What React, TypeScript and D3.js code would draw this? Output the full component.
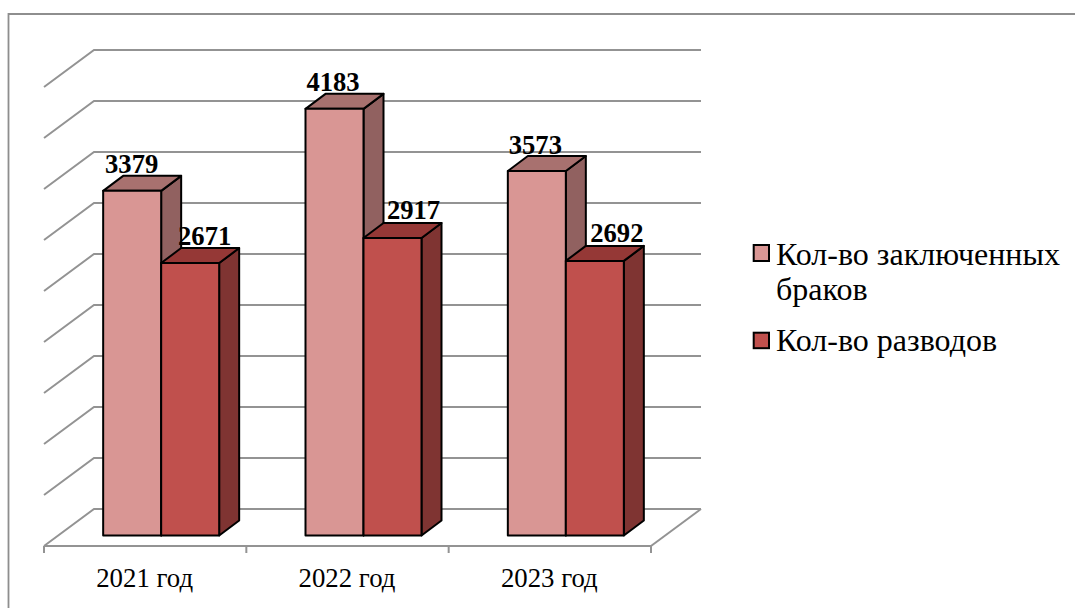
import React from "react";
import * as d3 from "d3";

const categories = ["2021 год", "2022 год", "2023 год"];
const seriesNames = ["Кол-во заключенных браков", "Кол-во разводов"];
const marriages = [3379, 4183, 3573];
const divorces = [2671, 2917, 2692];
const ticks = d3.range(0, 4501, 500);
// horizontal label shift from the centre of the bar, as placed in the picture
const marriageLabelShift = [-0.5, -1.5, -1.5];
const divorceLabelShift = [14.5, 21, 22];

const serif = "'Liberation Serif', 'Times New Roman', serif";
const GRID = "#939393";
const palettes = [
  { front: "#D99694", top: "#A8716F", side: "#916160" },
  { front: "#C0504D", top: "#953836", side: "#7F3432" },
];

const x = d3.scaleBand<string>().domain(categories).range([44, 651]);
const y = d3.scaleLinear().domain([0, 4500]).range([509, 50]);
const DEPTH_X = 50, DEPTH_Y = -37;
const BAR_DX = 20, BAR_DY = -15, BAR_W = 58, BAR_OFFSET = 16, BAR_FLOOR = 535.5;

function Bar({ cx, v, p }: { cx: number; v: number; p: typeof palettes[0] }) {
  const top = BAR_FLOOR - (y(0) - y(v));
  const l = cx, r = cx + BAR_W;
  const pts = (a: number[][]) => a.map((q) => q.join(",")).join(" ");
  return (
    <g stroke="#000" strokeWidth={2} strokeLinejoin="round">
      <polygon fill={p.side} points={pts([[r, top], [r + BAR_DX, top + BAR_DY], [r + BAR_DX, BAR_FLOOR + BAR_DY], [r, BAR_FLOOR]])} />
      <polygon fill={p.top} points={pts([[l, top], [l + BAR_DX, top + BAR_DY], [r + BAR_DX, top + BAR_DY], [r, top]])} />
      <rect x={l} y={top} width={BAR_W} height={BAR_FLOOR - top} fill={p.front} />
    </g>
  );
}

export default function App() {
  const x0 = 44, x1 = 651;
  const front = y(0) - DEPTH_Y;
  return (
    <svg width={1075} height={608} style={{ position: "absolute", left: 0, top: 0, background: "#fff" }}>
      <path d="M8.5,608V14H1075" fill="none" stroke="#8e8e8e" strokeWidth={1.8} />
      <g stroke={GRID} strokeWidth={2} fill="none">
        {ticks.map((t) => (
          <polyline key={t} points={`${x0},${y(t) - DEPTH_Y} ${x0 + DEPTH_X},${y(t)} ${x1 + DEPTH_X},${y(t)}`} />
        ))}
        <line x1={x0} x2={x1} y1={front} y2={front} />
        <line x1={x1} x2={x1 + DEPTH_X} y1={front} y2={y(0)} />
        {[0, 1, 2, 3].map((i) => {
          const tx = x0 + i * x.step();
          return <line key={i} x1={tx} x2={tx} y1={front} y2={front + 7} />;
        })}
      </g>
      {categories.map((c, i) => {
        const cx = (x(c) as number) + x.bandwidth() / 2 + BAR_OFFSET;
        const l0 = cx - BAR_W;
        const top0 = BAR_FLOOR - (y(0) - y(marriages[i]));
        const top1 = BAR_FLOOR - (y(0) - y(divorces[i]));
        return (
          <g key={c}>
            <Bar cx={l0} v={marriages[i]} p={palettes[0]} />
            <Bar cx={cx} v={divorces[i]} p={palettes[1]} />
            <g fontFamily={serif} fontWeight="bold" fontSize={26.6} textAnchor="middle" fill="#000">
              <text x={l0 + BAR_W / 2 + marriageLabelShift[i]} y={top0 - 17.5}>{marriages[i]}</text>
              <text x={cx + BAR_W / 2 + divorceLabelShift[i]} y={top1 - 18.5}>{divorces[i]}</text>
            </g>
            <text x={(x(c) as number) + x.bandwidth() / 2 - 0.5} y={587} fontFamily={serif} fontSize={26.8} textAnchor="middle" fill="#000">{c}</text>
          </g>
        );
      })}
      <g fontFamily={serif} fontSize={32} fill="#000">
        <rect x={753.7} y={245} width={15.3} height={16} fill={palettes[0].front} stroke="#000" strokeWidth={2} />
        <text x={776} y={265}>Кол-во заключенных</text>
        <text x={776} y={300}>браков</text>
        <rect x={753.7} y={332.7} width={15.3} height={15.5} fill={palettes[1].front} stroke="#000" strokeWidth={2} />
        <text x={776} y={351}>Кол-во разводов</text>
      </g>
    </svg>
  );
}
